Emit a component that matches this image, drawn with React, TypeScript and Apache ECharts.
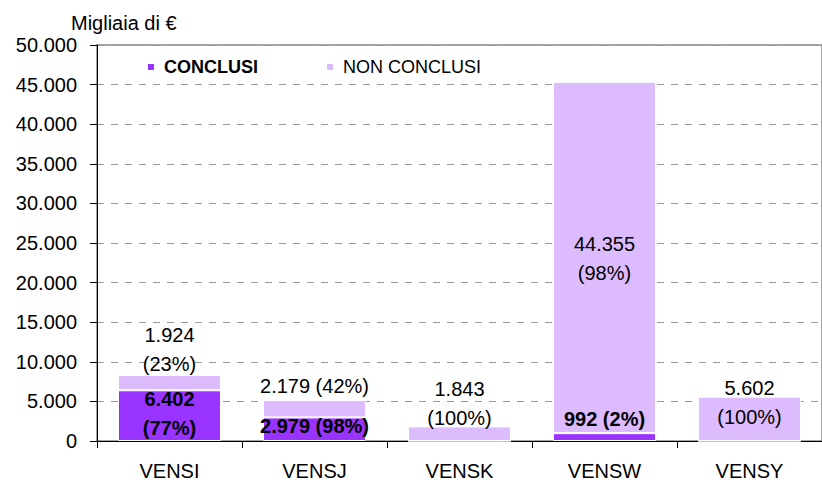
import React, { useEffect, useRef } from "react";
import * as echarts from "echarts";

const categories = ["VENSI", "VENSJ", "VENSK", "VENSW", "VENSY"];
const conclusi = [6402, 2979, 0, 992, 0];
const nonConclusi = [1924, 2179, 1843, 44355, 5602];
const pctConclusi = [77, 98, 0, 2, 0];
const pctNonConclusi = [23, 42, 100, 98, 100];
const yTicks = { min: 0, max: 50000, interval: 5000 };
const unitLabel = "Migliaia di €";
const seriesNames = ["CONCLUSI", "NON CONCLUSI"];

const fmt = (n: number) => String(n).replace(/\B(?=(\d{3})+(?!\d))/g, ".");

// label layout (style only)
const darkLayout: any[] = [
  { twoLine: true, position: "inside", offset: [0, -2] },
  { twoLine: false, position: "inside", offset: [0, -3] },
  null,
  { twoLine: false, position: "inside", offset: [0, -18] },
  null,
];
const lightLayout: any[] = [
  { twoLine: true, position: "top", distance: 0, offset: [0, 3] },
  { twoLine: false, position: "top", distance: 0, offset: [0, 0] },
  { twoLine: true, position: "top", distance: 0, offset: [0, 6] },
  { twoLine: true, position: "inside", offset: [0, 1] },
  { twoLine: true, position: "top", distance: 0, offset: [0, 35] },
];

const FONT = "'Liberation Sans', Arial, sans-serif";
const DARK = "#9933FF";
const LIGHT = "#DDBBFF";

export default function App() {
  const ref = useRef<HTMLDivElement>(null);
  useEffect(() => {
    if (!ref.current) return;
    const chart = echarts.init(ref.current, null, { renderer: "svg" });

    const darkData = conclusi.map((v, i) => {
      const lay = darkLayout[i];
      if (!lay || v === 0) return { value: v, label: { show: false } };
      const text = fmt(v) + (lay.twoLine ? "\n" : " ") + "(" + pctConclusi[i] + "%)";
      return {
        value: v,
        label: {
          show: true,
          position: lay.position,
          offset: lay.offset,
          formatter: text,
          fontWeight: "bold",
        },
      };
    });
    const lightData = nonConclusi.map((v, i) => {
      const lay = lightLayout[i];
      const text = fmt(v) + (lay.twoLine ? "\n" : " ") + "(" + pctNonConclusi[i] + "%)";
      return {
        value: v,
        label: {
          show: true,
          position: lay.position,
          distance: lay.distance ?? 5,
          offset: lay.offset,
          formatter: text,
          fontWeight: "normal",
        },
      };
    });

    const legendText = { fontFamily: FONT, fontSize: 18, color: "#000", padding: [0, 0, 0, 4] };

    chart.setOption({
      animation: false,
      textStyle: { fontFamily: FONT },
      title: {
        text: unitLabel,
        left: 66,
        top: 8,
        textStyle: { fontFamily: FONT, fontSize: 20, fontWeight: "normal", color: "#000" },
      },
      legend: [
        {
          data: [{ name: seriesNames[0], textStyle: { fontWeight: "bold" } }],
          left: 141,
          top: 53,
          icon: "rect",
          itemWidth: 8,
          itemHeight: 8,
          textStyle: legendText,
        },
        {
          data: [{ name: seriesNames[1] }],
          left: 320,
          top: 53,
          icon: "rect",
          itemWidth: 8,
          itemHeight: 8,
          textStyle: legendText,
        },
      ],
      grid: {
        left: 97,
        top: 45,
        width: 735,
        bottom: 41,
        show: true,
        borderColor: "#888",
        borderWidth: 1.5,
        backgroundColor: "transparent",
      },
      xAxis: {
        type: "category",
        data: categories,
        axisLine: { lineStyle: { color: "#000", width: 1 } },
        axisTick: { show: true, length: 7, lineStyle: { color: "#000" } },
        axisLabel: { fontFamily: FONT, fontSize: 20, color: "#000", margin: 20 },
      },
      yAxis: {
        type: "value",
        min: yTicks.min,
        max: yTicks.max,
        interval: yTicks.interval,
        axisLine: { show: true, lineStyle: { color: "#000", width: 1 } },
        axisTick: { show: true, length: 7, lineStyle: { color: "#000" } },
        axisLabel: {
          fontFamily: FONT,
          fontSize: 20,
          color: "#000",
          margin: 20,
          formatter: (v: number) => fmt(v),
        },
        splitLine: { show: true, lineStyle: { color: "#999", type: [7, 7], width: 1 } },
      },
      series: [
        {
          name: seriesNames[0],
          type: "bar",
          stack: "total",
          barWidth: 103,
          itemStyle: { color: DARK, borderColor: "#fff", borderWidth: 1 },
          label: { fontFamily: FONT, fontSize: 20, color: "#000", lineHeight: 29 },
          data: darkData,
        },
        {
          name: seriesNames[1],
          type: "bar",
          stack: "total",
          barWidth: 103,
          itemStyle: { color: LIGHT, borderColor: "#fff", borderWidth: 1 },
          label: { fontFamily: FONT, fontSize: 20, color: "#000", lineHeight: 29 },
          data: lightData,
        },
      ],
    });
    return () => chart.dispose();
  }, []);
  return (
    <div
      ref={ref}
      style={{ position: "fixed", left: 0, top: 0, width: 822, height: 482, background: "#fff" }}
    />
  );
}
